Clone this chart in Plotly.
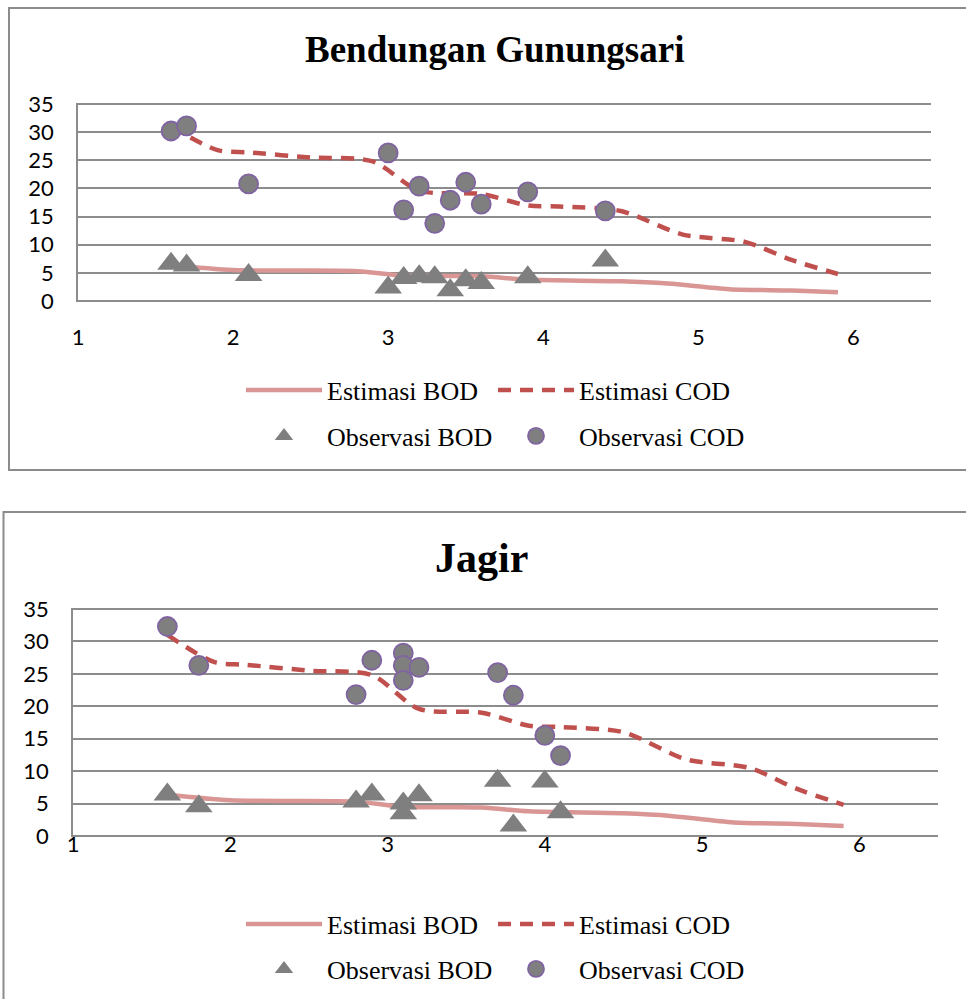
import plotly.graph_objects as go

# ---------------- data ----------------
est_cod_x = [1.6, 1.9, 2.1, 2.5, 2.9, 3.2, 3.6, 3.9, 4.1, 4.5, 4.9, 5.3, 5.6, 5.9]
est_cod_y = [31.0, 26.8, 26.4, 25.5, 24.8, 19.6, 19.0, 17.0, 16.8, 16.0, 11.8, 10.5, 7.3, 4.8]
est_bod_x = [1.6, 2.0, 2.8, 3.1, 3.6, 3.9, 4.5, 4.8, 5.2, 5.6, 5.9]
est_bod_y = [6.4, 5.5, 5.3, 4.5, 4.4, 3.8, 3.5, 3.1, 2.1, 1.85, 1.55]

gs_bod_x = [1.6, 1.7, 2.1, 3.0, 3.1, 3.2, 3.3, 3.4, 3.5, 3.6, 3.9, 4.4]
gs_bod_y = [6.6, 6.3, 4.6, 2.4, 4.1, 4.4, 4.2, 1.9, 3.7, 3.2, 4.2, 7.2]
gs_cod_x = [1.6, 1.7, 2.1, 3.0, 3.1, 3.2, 3.3, 3.4, 3.5, 3.6, 3.9, 4.4]
gs_cod_y = [30.2, 31.1, 20.8, 26.3, 16.2, 20.4, 13.8, 17.9, 21.1, 17.2, 19.4, 16.0]

jg_bod_x = [1.6, 1.8, 2.8, 2.9, 3.1, 3.1, 3.2, 3.7, 3.8, 4.0, 4.1]
jg_bod_y = [6.4, 4.6, 5.3, 6.4, 5.0, 3.5, 6.3, 8.5, 1.6, 8.4, 3.65]
jg_cod_x = [1.6, 1.8, 2.8, 2.9, 3.1, 3.1, 3.1, 3.2, 3.7, 3.8, 4.0, 4.1]
jg_cod_y = [32.3, 26.3, 21.8, 27.1, 28.2, 26.3, 24.0, 26.0, 25.2, 21.7, 15.5, 12.4]

titles = ["Bendungan Gunungsari", "Jagir"]
x_ticks = [1, 2, 3, 4, 5, 6]
y_ticks = [0, 5, 10, 15, 20, 25, 30, 35]

# ---------------- layout helpers ----------------
W, H = 966, 999
def fx(p):
    return p / W
def fy(p):
    return 1 - p / H

GRID = "#8c8c8c"
BOD_LINE = "#d99694"
COD_LINE = "#c0504d"
MARK = "#7f7f7f"
MARK_EDGE = "#8064a2"
SERIF = "Liberation Serif, Times New Roman, serif"
SANS = "Lato, Liberation Sans, sans-serif"
PAD = 0.2  # small y-range padding so the 0 and 35 gridlines are drawn

fig = go.Figure()

charts = [
    dict(obs=(gs_bod_x, gs_bod_y, gs_cod_x, gs_cod_y), xa="x", ya="y",
         legs=("legend", "legend2")),
    dict(obs=(jg_bod_x, jg_bod_y, jg_cod_x, jg_cod_y), xa="x2", ya="y2",
         legs=("legend3", "legend4")),
]

for i, c in enumerate(charts):
    bx, by, cx, cy = c["obs"]
    fig.add_trace(go.Scatter(x=est_bod_x, y=est_bod_y, mode="lines", name="Estimasi BOD",
                             line=dict(color=BOD_LINE, width=4.5, shape="spline", smoothing=0.8),
                             xaxis=c["xa"], yaxis=c["ya"], legend=c["legs"][0]))
    fig.add_trace(go.Scatter(x=est_cod_x, y=est_cod_y, mode="lines", name="Estimasi COD",
                             line=dict(color=COD_LINE, width=4.5, dash="13px,9px",
                                       shape="spline", smoothing=0.8),
                             xaxis=c["xa"], yaxis=c["ya"], legend=c["legs"][0]))
    fig.add_trace(go.Scatter(x=bx, y=by, mode="markers", name="Observasi BOD",
                             marker=dict(symbol="triangle-up", size=24, color=MARK,
                                         line=dict(width=0)),
                             xaxis=c["xa"], yaxis=c["ya"], legend=c["legs"][1]))
    fig.add_trace(go.Scatter(x=cx, y=cy, mode="markers", name="Observasi COD",
                             marker=dict(symbol="circle", size=19, color=MARK,
                                         line=dict(width=1.8, color=MARK_EDGE)),
                             xaxis=c["xa"], yaxis=c["ya"], legend=c["legs"][1]))

xaxis_common = dict(range=[1, 6.5], tickvals=x_ticks, showgrid=False, zeroline=False,
                    showline=False, ticks="", tickfont=dict(family=SANS, size=22, color="black"),
                    fixedrange=True, automargin=False)
yaxis_common = dict(range=[-PAD, 35 + PAD], tickvals=y_ticks, showgrid=True, gridcolor=GRID, gridwidth=1.5,
                    zeroline=False, showline=True, linecolor=GRID, linewidth=1.5, ticks="",
                    tickfont=dict(family=SANS, size=22, color="black"), ticklabelstandoff=18,
                    fixedrange=True, automargin=False)

legend_common = dict(orientation="h", bgcolor="rgba(0,0,0,0)", font=dict(family=SERIF, size=26, color="black"),
                     itemwidth=76, entrywidth=161, entrywidthmode="pixels", xanchor="left",
                     yanchor="middle", itemclick=False, itemdoubleclick=False)

# pixel extents of the plot areas (0..35 span), padded so PAD maps outside
def ydom(top, bot):
    ppu = (bot - top) / 35.0
    return [fy(bot + PAD * ppu), fy(top - PAD * ppu)]

fig.update_layout(
    width=W, height=H, margin=dict(l=0, r=0, t=0, b=0, autoexpand=False),
    paper_bgcolor="white", plot_bgcolor="white", showlegend=True,
    xaxis=dict(domain=[fx(78), fx(931)], anchor="y", ticklabelstandoff=20, **xaxis_common),
    yaxis=dict(domain=ydom(104, 301), anchor="x", **yaxis_common),
    xaxis2=dict(domain=[fx(73), fx(938)], anchor="y2", ticklabelstandoff=-8, **xaxis_common),
    yaxis2=dict(domain=ydom(609, 836), anchor="x2", **yaxis_common),
    legend=dict(x=fx(241), y=fy(390), **legend_common),
    legend2=dict(x=fx(241), y=fy(436), **legend_common),
    legend3=dict(x=fx(241), y=fy(924), **legend_common),
    legend4=dict(x=fx(241), y=fy(969), **legend_common),
    annotations=[
        dict(text="<b>" + titles[0] + "</b>", x=fx(494), y=fy(50), xref="paper", yref="paper",
             showarrow=False, font=dict(family=SERIF, size=37, color="black"),
             xanchor="center", yanchor="middle"),
        dict(text="<b>" + titles[1] + "</b>", x=fx(481), y=fy(558), xref="paper", yref="paper",
             showarrow=False, font=dict(family=SERIF, size=42, color="black"),
             xanchor="center", yanchor="middle"),
    ],
    shapes=[
        dict(type="rect", xref="paper", yref="paper", x0=fx(9), x1=1.05, y0=fy(470), y1=fy(8),
             line=dict(color=GRID, width=2), fillcolor="rgba(0,0,0,0)", layer="below"),
        dict(type="rect", xref="paper", yref="paper", x0=fx(3.5), x1=1.05, y0=-0.05, y1=fy(512),
             line=dict(color=GRID, width=2), fillcolor="rgba(0,0,0,0)", layer="below"),
    ],
)

fig.write_html("out.html")
